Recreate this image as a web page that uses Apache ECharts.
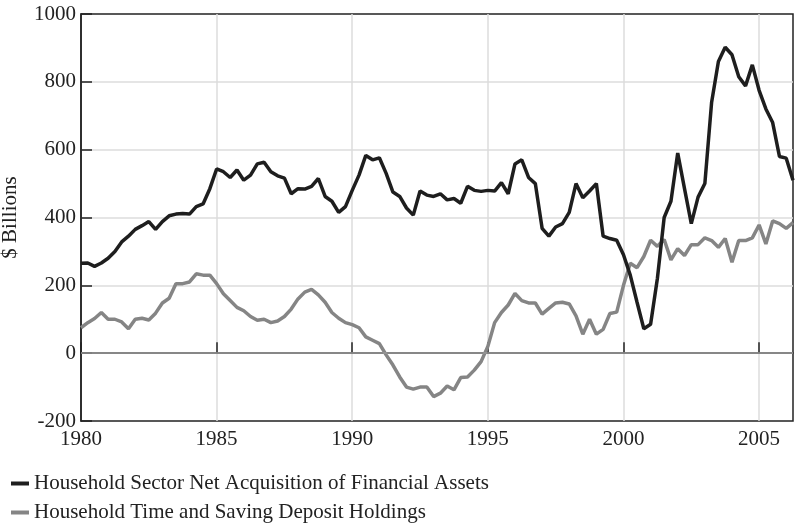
<!DOCTYPE html>
<html>
<head>
<meta charset="utf-8">
<script src="https://cdn.jsdelivr.net/npm/echarts@6/dist/echarts.min.js"></script>
<style>
  html, body { margin: 0; padding: 0; background: #fff; }
  #chart { width: 801px; height: 523px; }
</style>
</head>
<body>
<div id="chart"></div>
<script>
// quarterly data, 1980Q1 .. 2006Q2
const startYear = 1980
const netAcquisition = [
  265, 266, 256, 266, 280, 300, 328, 345, 365, 376, 388, 365, 388, 405, 410, 412,
  410, 432, 440, 485, 543, 535, 518, 540, 510, 525, 558, 563, 535, 523, 516, 470,
  485, 484, 492, 515, 462, 448, 415, 432, 480, 525, 583, 570, 576, 530, 475, 462,
  428, 407, 478, 466, 462, 470, 452, 456, 442, 492, 480, 477, 480, 478, 503, 470,
  558, 570, 518, 500, 368, 345, 372, 382, 415, 500, 458, 478, 500, 345, 338, 333,
  290, 230, 150, 72, 85, 220, 400, 448, 590, 485, 382, 460, 500, 740, 860, 902,
  880, 815, 788, 850, 775, 720, 680, 580, 575, 510
]
const depositHoldings = [
  75, 90, 102, 120, 100, 100, 92, 72, 100, 103, 98, 118, 148, 162, 205, 205,
  210, 234, 230, 230, 205, 175, 155, 135, 125, 108, 97, 100, 90, 95, 108, 130,
  160, 180, 188, 172, 150, 120, 103, 90, 84, 75, 48, 38, 28, -5, -35, -70,
  -100, -106, -100, -100, -128, -118, -97, -108, -72, -70, -50, -25, 20, 90, 120, 142,
  176, 155, 148, 148, 115, 132, 148, 150, 145, 110, 56, 100, 56, 70, 117, 121,
  200, 265, 252, 285, 333, 315, 335, 275, 308, 288, 320, 320, 340, 332, 312, 338,
  268, 332, 332, 340, 378, 322, 390, 382, 368, 385
]
const seriesNames = [
  'Household Sector Net Acquisition of Financial Assets',
  'Household Time and Saving Deposit Holdings'
]
const xTicks = [1980, 1985, 1990, 1995, 2000, 2005]
const yTicks = [-200, 0, 200, 400, 600, 800, 1000]

const toPairs = arr => arr.map((v, i) => [startYear + i * 0.25, v])

const font = '"Liberation Serif", "DejaVu Serif", serif'
const fs = 21
const chart = echarts.init(document.getElementById('chart'))

chart.setOption({
  animation: false,
  textStyle: { fontFamily: font, color: '#222' },
  grid: {
    left: 81, right: 8, top: 14, bottom: 102,
    outerBoundsMode: 'none',
    containLabel: false,
    show: true, borderColor: '#222', borderWidth: 1.5
  },
  legend: {
    orient: 'vertical',
    left: 6, top: 468, height: 60,
    itemWidth: 18, itemHeight: 4, itemGap: 8,
    icon: 'rect',
    textStyle: { fontFamily: font, fontSize: fs, color: '#222' },
    data: seriesNames
  },
  xAxis: {
    type: 'value',
    min: xTicks[0],
    max: startYear + (netAcquisition.length - 1) * 0.25,
    interval: 5,
    axisLine: { lineStyle: { color: '#222', width: 1.5 } },
    axisTick: { inside: true, length: 11, lineStyle: { color: '#222', width: 1.5 } },
    axisLabel: {
      fontFamily: font, fontSize: fs, color: '#222', margin: 8,
      showMaxLabel: false,
      formatter: v => (xTicks.includes(v) ? String(v) : '')
    },
    splitLine: {
      show: true, showMinLine: false, showMaxLine: false,
      lineStyle: { color: '#dcdcdc', width: 1.5 }
    }
  },
  yAxis: {
    type: 'value',
    min: yTicks[0], max: yTicks[yTicks.length - 1], interval: 200,
    name: '$ Billions',
    nameLocation: 'middle',
    nameGap: 60,
    nameTextStyle: { fontFamily: font, fontSize: fs, color: '#222' },
    axisLine: { show: true, lineStyle: { color: '#222', width: 1.5 } },
    axisTick: { show: true, inside: true, length: 11, lineStyle: { color: '#222', width: 1.5 } },
    axisLabel: { fontFamily: font, fontSize: fs, color: '#222', margin: 5, formatter: v => String(v) },
    splitLine: {
      show: true, showMinLine: false, showMaxLine: false,
      lineStyle: { color: '#dcdcdc', width: 1.5 }
    }
  },
  series: [
    {
      name: seriesNames[0],
      type: 'line',
      data: toPairs(netAcquisition),
      showSymbol: false,
      lineStyle: { color: '#1e1e1e', width: 3.5 },
      itemStyle: { color: '#1e1e1e' },
      z: 3
    },
    {
      name: seriesNames[1],
      type: 'line',
      data: toPairs(depositHoldings),
      showSymbol: false,
      lineStyle: { color: '#858585', width: 3.5 },
      itemStyle: { color: '#858585' },
      z: 2,
      markLine: {
        silent: true,
        symbol: 'none',
        label: { show: false },
        lineStyle: { color: '#9a9a9a', width: 1.5, type: 'solid' },
        data: [{ yAxis: 0 }]
      }
    }
  ]
})
</script>
</body>
</html>
